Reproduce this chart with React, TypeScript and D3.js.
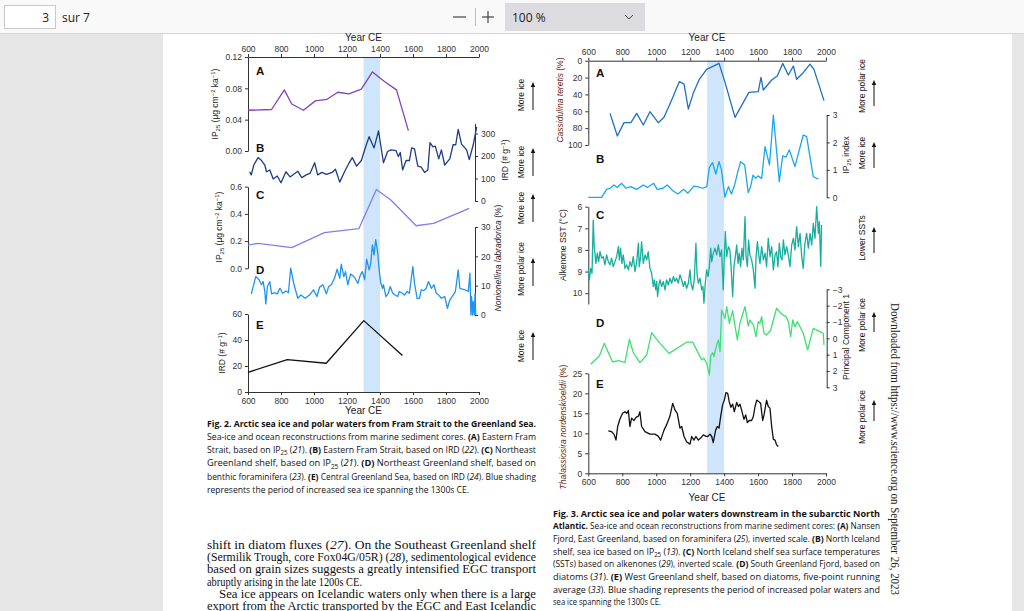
import React, { useRef, useEffect } from 'react';
import * as d3 from 'd3';

// ---- Fig. 2 series: [year CE, value] ----
const fig2A: [number, number][] = [
  [600, 0.052], [743, 0.053], [820, 0.078], [865, 0.060], [936, 0.052], [1008, 0.064],
  [1079, 0.066], [1144, 0.075], [1211, 0.073], [1287, 0.079], [1354, 0.101], [1425, 0.089],
  [1500, 0.078], [1572, 0.026],
];
const fig2B: [number, number][] = [
  [610, 130], [620, 116], [635, 160], [661, 193], [682, 180], [702, 160], [712, 130], [732, 138],
  [753, 98], [777, 111], [800, 81], [830, 130], [855, 107], [875, 118], [902, 132], [926, 104],
  [953, 116], [977, 124], [1004, 170], [1022, 116], [1048, 127], [1075, 118], [1110, 127],
  [1130, 141], [1156, 84], [1185, 130], [1211, 167], [1232, 193], [1258, 155], [1287, 180],
  [1313, 241], [1334, 286], [1364, 236], [1391, 312], [1421, 170], [1446, 220], [1466, 227],
  [1497, 224], [1511, 198], [1523, 216], [1537, 138], [1558, 180], [1578, 180], [1592, 236],
  [1609, 232], [1629, 155], [1650, 151], [1670, 127], [1690, 138], [1703, 259], [1721, 241],
  [1735, 244], [1756, 187], [1772, 227], [1792, 160], [1823, 187], [1843, 250], [1859, 250],
  [1874, 318], [1894, 253], [1925, 227], [1941, 184], [1965, 250], [1986, 330],
];
const fig2C: [number, number][] = [
  [600, 0.171], [661, 0.184], [865, 0.152], [1063, 0.262], [1272, 0.291], [1378, 0.58],
  [1466, 0.502], [1619, 0.313], [1725, 0.33], [1941, 0.441],
];
const fig2D: [number, number][] = [
  [620, 7.2], [647, 13.1], [667, 12], [682, 10.3], [692, 11.4], [702, 8], [708, 3.8], [718, 9.7],
  [732, 11.4], [743, 7.2], [763, 7.6], [777, 7.2], [794, 9.1], [810, 7.4], [830, 8.2], [845, 7.6],
  [859, 16], [879, 10.3], [902, 5.7], [920, 6.8], [946, 5.7], [973, 6.8], [997, 8.6], [1018, 6.3],
  [1034, 9.5], [1054, 10.3], [1075, 7.2], [1089, 9.7], [1105, 10.3], [1124, 12.5], [1140, 15.6],
  [1156, 12.5], [1165, 17.3], [1181, 13.1], [1191, 14.8], [1205, 10.3], [1222, 14], [1238, 13.3],
  [1252, 12.2], [1266, 10.8], [1279, 13.3], [1293, 14.8], [1307, 12], [1319, 19], [1334, 15.4],
  [1344, 17.7], [1354, 23.9], [1364, 20.5], [1374, 25.7], [1385, 21.7], [1395, 15.4], [1405, 10.8],
  [1415, 9.1], [1421, 10.3], [1436, 6.3], [1450, 7.4], [1462, 9.7], [1476, 7.6], [1491, 6.8],
  [1507, 6.3], [1517, 8], [1531, 7.6], [1548, 6.8], [1564, 8], [1578, 7.4], [1599, 16.5],
  [1609, 10.8], [1625, 5.7], [1639, 5.7], [1650, 8.6], [1666, 8.3], [1680, 9.1], [1694, 11.4],
  [1711, 9.1], [1727, 10.3], [1741, 7.4], [1756, 6.8], [1772, 5.7], [1792, 6.3], [1809, 2.3],
  [1823, 5.1], [1843, 6.8], [1857, 8], [1874, 15.4], [1884, 9.1], [1915, 8.6], [1935, 8],
  [1945, 14.3], [1951, 0], [1955, 6.3], [1961, 0], [1965, 4.6], [1972, 0], [1976, 7.4], [1980, 0],
];
const fig2E: [number, number][] = [
  [600, 15.1], [838, 24.9], [1074, 22.1], [1302, 54.9], [1536, 28],
];

// ---- Fig. 3 series: [year CE, value] ----
const fig3A: [number, number][] = [
  [728, 62.5], [771, 89.3], [810, 73.5], [851, 73.5], [885, 62.5], [924, 76.3], [963, 60.5],
  [1012, 73.5], [1046, 67.2], [1091, 46.6], [1136, 24.9], [1164, 27.7], [1189, 57.3], [1218, 38.7],
  [1254, 22.1], [1297, 10.3], [1370, 3.2], [1407, 26.9], [1464, 67.2], [1546, 37.5], [1601, 36.8],
  [1617, 19.8], [1631, 34.8], [1680, 22.9], [1713, 18.2], [1745, 3.2], [1778, 17], [1808, 6.3],
  [1827, 22.1], [1866, 14.2], [1906, 4], [1929, 10.3], [1988, 47.4],
];
const fig3B: [number, number][] = [
  [600, 0], [678, 0], [708, 0.29], [728, 0.33], [751, 0.45], [771, 0.36], [796, 0.51], [822, 0.33],
  [849, 0.39], [885, 0.29], [924, 0.45], [948, 0.36], [985, 0.51], [1006, 0.29], [1039, 0.33],
  [1065, 0.45], [1098, 0.24], [1127, 0.12], [1163, 0.29], [1186, 0.15], [1222, 0.41], [1243, 0.39],
  [1273, 0.33], [1298, 0.39], [1313, 1.09], [1332, 1.26], [1351, 0.85], [1370, 1.3], [1384, 1.02],
  [1405, 0], [1425, 0.39], [1443, 0.12], [1462, 0.45], [1478, 0.87], [1497, 1.3], [1521, 1.18],
  [1542, 0.17], [1556, 0.39], [1570, 0.81], [1586, 0.69], [1599, 0.78], [1621, 0.69], [1641, 1.85],
  [1667, 1.18], [1690, 3.0], [1725, 0.57], [1745, 1.51], [1764, 1.46], [1784, 1.73], [1817, 1.12],
  [1866, 2.27], [1886, 2.21], [1925, 0.75], [1955, 0.66],
];
const fig3C: [number, number][] = [
  [600, 8.92], [606, 9.38], [614, 8.85], [622, 9.08], [629, 6.62], [635, 7.85], [645, 8.62],
  [653, 8.15], [661, 8.54], [669, 8.08], [679, 8.38], [688, 8.31], [698, 8.69], [708, 8.23],
  [718, 8.54], [728, 8.69], [737, 8.38], [747, 8.77], [757, 8.54], [767, 8.31], [777, 7.85],
  [783, 8.46], [790, 7.92], [798, 8.62], [806, 8.23], [816, 8.85], [826, 8.69], [836, 8.92],
  [845, 8.54], [855, 8.77], [865, 8.31], [875, 9.0], [885, 8.54], [895, 7.69], [900, 8.77],
  [908, 8.31], [914, 7.62], [924, 8.62], [934, 8.23], [944, 8.46], [953, 8.08], [963, 8.85],
  [973, 9.08], [983, 9.69], [989, 9.38], [997, 9.85], [1003, 9.46], [1008, 10.15], [1016, 9.62],
  [1022, 9.38], [1032, 9.69], [1042, 9.46], [1052, 9.85], [1061, 9.38], [1071, 9.62], [1081, 9.31],
  [1091, 9.54], [1101, 9.23], [1111, 9.46], [1120, 9.31], [1130, 9.54], [1140, 9.15], [1150, 9.38],
  [1160, 9.69], [1169, 9.46], [1179, 9.77], [1189, 9.54], [1199, 8.92], [1205, 9.54], [1215, 9.85],
  [1224, 9.38], [1234, 7.69], [1240, 9.08], [1248, 9.54], [1258, 9.31], [1268, 9.85], [1275, 9.69],
  [1281, 10.46], [1289, 9.54], [1297, 8.92], [1305, 9.23], [1313, 8.77], [1321, 7.92], [1327, 8.54],
  [1336, 8.15], [1346, 7.92], [1356, 8.23], [1366, 7.77], [1376, 8.31], [1385, 8.0], [1395, 9.85],
  [1401, 8.31], [1407, 7.15], [1415, 8.31], [1425, 7.85], [1434, 8.0], [1442, 8.92], [1450, 10.15],
  [1458, 8.77], [1466, 8.31], [1474, 7.77], [1482, 8.62], [1489, 8.15], [1497, 8.77], [1505, 7.92],
  [1513, 8.46], [1523, 6.46], [1529, 8.31], [1537, 8.77], [1544, 7.54], [1552, 8.23], [1562, 8.46],
  [1572, 8.92], [1582, 9.77], [1588, 8.31], [1596, 7.62], [1603, 8.15], [1611, 8.62], [1621, 7.85],
  [1631, 8.46], [1641, 8.15], [1650, 8.77], [1660, 7.46], [1670, 8.31], [1680, 7.85], [1690, 8.92],
  [1700, 8.23], [1709, 8.08], [1717, 8.77], [1725, 7.69], [1733, 8.31], [1741, 8.46], [1749, 7.54],
  [1758, 8.23], [1768, 7.85], [1778, 8.23], [1788, 8.77], [1798, 7.77], [1808, 7.46], [1817, 8.0],
  [1827, 6.92], [1837, 7.85], [1847, 7.23], [1857, 8.31], [1866, 8.85], [1876, 7.69], [1886, 7.23],
  [1896, 7.92], [1906, 7.23], [1916, 7.77], [1925, 6.77], [1935, 7.46], [1945, 6.0], [1955, 7.23],
  [1961, 6.69], [1969, 8.77], [1974, 6.85],
];
const fig3D: [number, number][] = [
  [614, 1.59], [665, 1.08], [694, 0.31], [743, 1.45], [777, 1.37], [816, 1.47], [842, 0.06],
  [865, 0.88], [904, 1.49], [944, 1.02], [973, -0.35], [1022, 0.31], [1075, 0.92], [1179, 0.24],
  [1215, 0.24], [1238, 0.71], [1268, 1.33], [1281, 1.22], [1297, 1.53], [1313, 2.24], [1321, 1.08],
  [1333, 0.88], [1340, 1.12], [1356, 0.41], [1366, 0.1], [1376, 0.82], [1385, -1.73], [1405, -1.22],
  [1415, -1.94], [1431, -0.92], [1450, -1.69], [1468, -0.51], [1478, 0.1], [1493, -0.92],
  [1523, -1.94], [1542, -0.76], [1552, -1.12], [1572, -0.82], [1588, -0.1], [1601, -1.02],
  [1611, -0.92], [1621, -1.33], [1635, -0.31], [1650, -0.2], [1674, -0.51], [1709, -1.84],
  [1739, -1.49], [1764, -1.33], [1778, -1.02], [1792, -0.1], [1804, -1.12], [1817, -0.71],
  [1831, -1.02], [1847, -0.71], [1866, -0.31], [1892, 0.71], [1925, -0.61], [1965, -0.41],
  [1984, -0.31], [1988, 0.41],
];
const fig3E: [number, number][] = [
  [718, 10.6], [737, 10.4], [751, 9.8], [763, 8.3], [773, 11.7], [786, 13.5], [802, 15], [816, 15.4],
  [826, 15], [836, 15.7], [845, 11.7], [855, 13.8], [869, 13.2], [881, 14], [895, 14.3], [904, 15.4],
  [914, 11.7], [934, 10.4], [963, 9.8], [992, 9.8], [1012, 9.3], [1026, 8.3], [1046, 10.8],
  [1061, 12.1], [1081, 14.3], [1097, 17.5], [1111, 15.8], [1124, 15], [1140, 11.3], [1150, 11.7],
  [1164, 9.2], [1179, 7.9], [1199, 7.3], [1209, 9.2], [1222, 8.3], [1234, 9.2], [1248, 8.3],
  [1262, 8.8], [1277, 9.6], [1291, 9.3], [1303, 9.2], [1317, 9.8], [1327, 9.2], [1336, 7.7],
  [1350, 10.8], [1360, 11.7], [1370, 11.3], [1380, 14.3], [1391, 17.1], [1401, 18.3], [1411, 20.2],
  [1421, 20], [1430, 17.9], [1440, 16.5], [1450, 17.3], [1460, 15.4], [1474, 17.7], [1484, 16.7],
  [1493, 17.3], [1503, 15.8], [1517, 13.5], [1527, 14.6], [1537, 12.7], [1548, 13.2], [1562, 13.2],
  [1572, 14.2], [1582, 16.7], [1592, 18.3], [1605, 17.9], [1615, 17.5], [1627, 13.2], [1635, 14.6],
  [1650, 18.3], [1660, 16.7], [1670, 16.3], [1680, 11.7], [1690, 8.5], [1700, 8.3], [1709, 7.1],
  [1719, 6.7],
];

// ---- ticks ----
const YEAR_TICKS = [600, 800, 1000, 1200, 1400, 1600, 1800, 2000];
const SHADE = [1300, 1400];
const fig2A_ticks = [0, 0.04, 0.08, 0.12];
const fig2B_ticks = [0, 100, 200, 300];
const fig2C_ticks = [0, 0.2, 0.4, 0.6];
const fig2D_ticks = [0, 10, 20, 30];
const fig2E_ticks = [0, 20, 40, 60];
const fig3A_ticks = [0, 20, 40, 60, 80, 100];
const fig3B_ticks = [0, 1, 2, 3];
const fig3C_ticks = [6, 7, 8, 9, 10];
const fig3D_ticks = [-3, -2, -1, 0, 1, 2, 3];
const fig3E_ticks = [0, 5, 10, 15, 20, 25];

// ---- text ----
const fig2Caption = [
  '**Fig. 2. Arctic sea ice and polar waters from Fram Strait to the Greenland Sea.**',
  'Sea-ice and ocean reconstructions from marine sediment cores. **(A)** Eastern Fram',
  'Strait, based on IP~25~ (_21_). **(B)** Eastern Fram Strait, based on IRD (_22_). **(C)** Northeast',
  'Greenland shelf, based on IP~25~ (_21_). **(D)** Northeast Greenland shelf, based on',
  'benthic foraminifera (_23_). **(E)** Central Greenland Sea, based on IRD (_24_). Blue shading',
  'represents the period of increased sea ice spanning the 1300s CE.',
];
const fig3Caption = [
  '**Fig. 3. Arctic sea ice and polar waters downstream in the subarctic North**',
  '**Atlantic.** Sea-ice and ocean reconstructions from marine sediment cores: **(A)** Nansen',
  'Fjord, East Greenland, based on foraminifera (_25_), inverted scale. **(B)** North Iceland',
  'shelf, sea ice based on IP~25~ (_13_). **(C)** North Iceland shelf sea surface temperatures',
  '(SSTs) based on alkenones (_29_), inverted scale. **(D)** South Greenland Fjord, based on',
  'diatoms (_31_). **(E)** West Greenland shelf, based on diatoms, five-point running',
  'average (_33_). Blue shading represents the period of increased polar waters and',
  'sea ice spanning the 1300s CE.',
];
const bodyText = [
  'shift in diatom fluxes (_27_). On the Southeast Greenland shelf',
  '(Sermilik Trough, core Fox04G/05R) (_28_), sedimentological evidence',
  'based on grain sizes suggests a greatly intensified EGC transport',
  'abruptly arising in the late 1200s CE.',
  'Sea ice appears on Icelandic waters only when there is a large',
  'export from the Arctic transported by the EGC and East Icelandic',
];

const SANS = 'Liberation Sans, Arial, sans-serif';
const CAPTION = 'Open Sans, Liberation Sans, sans-serif';
const SERIF = 'Liberation Serif, Times New Roman, serif';
const AX = '#333';

type Sel = d3.Selection<SVGGElement, unknown, null, undefined>;
type Part = { t: string; s?: 'sub' | 'super'; i?: boolean; b?: boolean };

function parseRich(line: string): Part[] {
  return line.split(/(\*\*[^*]+\*\*|_[^_]+_|~[^~]+~)/).filter(Boolean).map(tok => {
    if (tok.startsWith('**')) return { t: tok.slice(2, -2), b: true };
    if (tok.startsWith('_')) return { t: tok.slice(1, -1), i: true };
    if (tok.startsWith('~')) return { t: tok.slice(1, -1), s: 'sub' as const };
    return { t: tok };
  });
}

function richText(g: Sel, x: number, y: number, parts: Part[], size: number, opts: any = {}) {
  const txt = g.append('text')
    .attr('x', x).attr('y', y)
    .attr('font-size', size)
    .attr('font-family', opts.font || SANS)
    .attr('fill', opts.color || '#222')
    .attr('text-anchor', opts.anchor || 'start');
  if (opts.rotate) txt.attr('transform', `rotate(${opts.rotate},${x},${y})`);
  if (opts.len) txt.attr('textLength', opts.len).attr('lengthAdjust', 'spacingAndGlyphs');
  // sub/superscripts are shifted with dy and shifted back on the next run
  let shift = 0;
  parts.forEach(p => {
    const ts = txt.append('tspan').text(p.t);
    if (p.b) ts.attr('font-weight', 'bold');
    if (p.i) ts.attr('font-style', 'italic');
    const want = p.s === 'sub' ? size * 0.25 : p.s === 'super' ? -size * 0.4 : 0;
    if (want !== shift) ts.attr('dy', want - shift);
    shift = want;
    if (p.s) ts.attr('font-size', size * 0.7);
  });
  return txt;
}

function styleAxis(g: Sel) {
  g.attr('font-family', SANS).attr('font-size', 8.5);
  g.select('.domain').attr('stroke', AX);
  g.selectAll('.tick line').attr('stroke', AX);
  g.selectAll('.tick text').attr('fill', AX);
}

function yAxis(svg: Sel, scale: d3.ScaleLinear<number, number>, x: number, side: 'left' | 'right',
  ticks: number[], fmt: (d: any) => string) {
  const axis = (side === 'left' ? d3.axisLeft(scale) : d3.axisRight(scale))
    .tickValues(ticks).tickSize(3).tickSizeOuter(0).tickPadding(3).tickFormat(fmt);
  const g = svg.append('g').attr('transform', `translate(${x},0)`).call(axis as any);
  styleAxis(g);
}

function xAxis(svg: Sel, scale: d3.ScaleLinear<number, number>, y: number, side: 'top' | 'bottom') {
  const axis = (side === 'top' ? d3.axisTop(scale) : d3.axisBottom(scale))
    .tickValues(YEAR_TICKS).tickSize(3).tickSizeOuter(0).tickPadding(2.5).tickFormat(d3.format('d'));
  const g = svg.append('g').attr('transform', `translate(0,${y})`).call(axis as any);
  styleAxis(g);
}

function series(svg: Sel, data: [number, number][], xs: any, ys: any, color: string) {
  const line = d3.line<[number, number]>().x(d => xs(d[0])).y(d => ys(d[1]));
  svg.append('path').datum(data).attr('d', line)
    .attr('fill', 'none').attr('stroke', color).attr('stroke-width', 1.3)
    .attr('stroke-linejoin', 'round');
}

function note(svg: Sel, x: number, cy: number, label: string, ay0: number, ay1: number) {
  richText(svg, x, cy, [{ t: label }], 8.5, { anchor: 'middle', rotate: -90, color: '#111' });
  svg.append('line').attr('x1', x + 9).attr('x2', x + 9).attr('y1', ay1).attr('y2', ay0 + 4)
    .attr('stroke', '#111').attr('stroke-width', 1);
  svg.append('path')
    .attr('d', `M${x + 9},${ay0} L${x + 6.8},${ay0 + 5} L${x + 11.2},${ay0 + 5} Z`)
    .attr('fill', '#111');
}

function panelLetter(svg: Sel, x: number, y: number, s: string) {
  svg.append('text').attr('x', x).attr('y', y).attr('font-family', SANS)
    .attr('font-weight', 'bold').attr('font-size', 11.5).attr('fill', '#111')
    .attr('dominant-baseline', 'central').text(s);
}

const App: React.FC = () => {
  const ref = useRef<SVGSVGElement>(null);

  useEffect(() => {
    if (!ref.current) return;
    const root = d3.select(ref.current);
    root.selectAll('*').remove();
    const svg = root.append('g') as Sel;

    // viewer chrome
    svg.append('rect').attr('width', 1024).attr('height', 611).attr('fill', '#e6e6e6');
    svg.append('rect').attr('x', 163).attr('y', 33).attr('width', 849).attr('height', 578).attr('fill', '#fff');
    svg.append('rect').attr('width', 1024).attr('height', 33).attr('fill', '#f9f9fa');
    svg.append('line').attr('x1', 0).attr('x2', 1024).attr('y1', 33.5).attr('y2', 33.5).attr('stroke', '#d4d4d4');
    svg.append('rect').attr('x', 4.5).attr('y', 5.5).attr('width', 51).attr('height', 23)
      .attr('fill', '#fff').attr('stroke', '#c8c8c8');
    richText(svg, 49, 21.5, [{ t: '3' }], 12, { anchor: 'end', font: 'Open Sans, sans-serif', color: '#222' });
    richText(svg, 62, 21.5, [{ t: 'sur 7' }], 12, { font: 'Open Sans, sans-serif', color: '#222' });
    svg.append('line').attr('x1', 453).attr('x2', 466).attr('y1', 17).attr('y2', 17).attr('stroke', '#444').attr('stroke-width', 1.2);
    svg.append('line').attr('x1', 475.5).attr('x2', 475.5).attr('y1', 8).attr('y2', 26).attr('stroke', '#bbb');
    svg.append('line').attr('x1', 482).attr('x2', 494).attr('y1', 17).attr('y2', 17).attr('stroke', '#444').attr('stroke-width', 1.2);
    svg.append('line').attr('x1', 488).attr('x2', 488).attr('y1', 11).attr('y2', 23).attr('stroke', '#444').attr('stroke-width', 1.2);
    svg.append('rect').attr('x', 505).attr('y', 3).attr('width', 140).attr('height', 28).attr('fill', '#dcdce0');
    richText(svg, 512, 21.5, [{ t: '100 %' }], 12, { font: 'Open Sans, sans-serif', color: '#222' });
    svg.append('path').attr('d', 'M625,15 L629,19 L633,15').attr('fill', 'none').attr('stroke', '#444');

    // ---------------- Fig. 2 ----------------
    const x2 = d3.scaleLinear().domain([600, 2000]).range([248, 479]);
    const y2A = d3.scaleLinear().domain([0, 0.12]).range([151, 57]);
    const y2B = d3.scaleLinear().domain([0, 345]).range([201, 123.4]);
    const y2C = d3.scaleLinear().domain([0, 0.6]).range([268.3, 186.7]);
    const y2D = d3.scaleLinear().domain([0, 30]).range([315, 227]);
    const y2E = d3.scaleLinear().domain([0, 60]).range([392, 314]);

    svg.append('rect').attr('x', x2(SHADE[0])).attr('y', 57)
      .attr('width', x2(SHADE[1]) - x2(SHADE[0])).attr('height', 392 - 57).attr('fill', '#cfe5fb');

    xAxis(svg, x2, 57, 'top');
    xAxis(svg, x2, 392, 'bottom');
    yAxis(svg, y2A, 248, 'left', fig2A_ticks, d3.format('.2f'));
    yAxis(svg, y2B, 475, 'right', fig2B_ticks, d3.format('d'));
    yAxis(svg, y2C, 248, 'left', fig2C_ticks, d3.format('.1f'));
    yAxis(svg, y2D, 475, 'right', fig2D_ticks, d3.format('d'));
    yAxis(svg, y2E, 248, 'left', fig2E_ticks, d3.format('d'));

    series(svg, fig2A, x2, y2A, '#8442b8');
    series(svg, fig2B, x2, y2B, '#1d3c87');
    series(svg, fig2C, x2, y2C, '#7f7ff2');
    series(svg, fig2D, x2, y2D, '#1f93f0');
    series(svg, fig2E, x2, y2E, '#111');

    richText(svg, 363.5, 40.5, [{ t: 'Year CE' }], 10, { anchor: 'middle' });
    richText(svg, 363.5, 413.5, [{ t: 'Year CE' }], 10, { anchor: 'middle' });
    ['A', 'B', 'C', 'D', 'E'].forEach((l, i) => panelLetter(svg, 256, [71, 148, 195, 270, 325][i], l));

    const ipLabel: Part[] = [{ t: 'IP' }, { t: '25', s: 'sub' }, { t: ' (µg cm' }, { t: '−2', s: 'super' }, { t: ' ka' }, { t: '−1', s: 'super' }, { t: ')' }];
    const irdLabel: Part[] = [{ t: 'IRD (# g' }, { t: '−1', s: 'super' }, { t: ')' }];
    richText(svg, 218, 104, ipLabel, 8.5, { anchor: 'middle', rotate: -90 });
    richText(svg, 508, 160, irdLabel, 8.5, { anchor: 'middle', rotate: -90 });
    richText(svg, 222, 227, ipLabel, 8.5, { anchor: 'middle', rotate: -90 });
    richText(svg, 501, 258, [{ t: 'Nonionellina labradorica', i: true }, { t: ' (%)' }], 8.5, { anchor: 'middle', rotate: -90 });
    richText(svg, 225, 353, irdLabel, 8.5, { anchor: 'middle', rotate: -90 });

    note(svg, 524, 95, 'More ice', 82, 110);
    note(svg, 524, 162, 'More ice', 148, 176);
    note(svg, 524, 208, 'More ice', 194, 222);
    note(svg, 524, 269, 'More polar ice', 258, 286);
    note(svg, 524, 346, 'More ice', 332, 360);

    // ---------------- Fig. 3 ----------------
    const x3 = d3.scaleLinear().domain([600, 2000]).range([588.3, 826]);
    const y3A = d3.scaleLinear().domain([0, 100]).range([60.7, 145]);
    const y3B = d3.scaleLinear().domain([0, 3]).range([197.3, 115]);
    const y3C = d3.scaleLinear().domain([6, 10.5]).range([206.7, 304]);
    const y3D = d3.scaleLinear().domain([-3, 3]).range([289.3, 387.3]);
    const y3E = d3.scaleLinear().domain([0, 25]).range([473.3, 373.3]);

    svg.append('rect').attr('x', x3(SHADE[0])).attr('y', 60.7)
      .attr('width', x3(SHADE[1]) - x3(SHADE[0])).attr('height', 473.3 - 60.7).attr('fill', '#cfe5fb');

    xAxis(svg, x3, 60.7, 'top');
    xAxis(svg, x3, 473.3, 'bottom');
    yAxis(svg, y3A, 588.3, 'left', fig3A_ticks, d3.format('d'));
    yAxis(svg, y3B, 826.7, 'right', fig3B_ticks, d3.format('d'));
    yAxis(svg, y3C, 588.3, 'left', fig3C_ticks, d3.format('d'));
    yAxis(svg, y3D, 826.7, 'right', fig3D_ticks, d3.format('d'));
    yAxis(svg, y3E, 588.3, 'left', fig3E_ticks, d3.format('d'));

    series(svg, fig3A, x3, y3A, '#1f6fc4');
    series(svg, fig3B, x3, y3B, '#1aa7ec');
    series(svg, fig3C, x3, y3C, '#16ae9c');
    series(svg, fig3D, x3, y3D, '#3ee072');
    series(svg, fig3E, x3, y3E, '#111');

    richText(svg, 707, 40.5, [{ t: 'Year CE' }], 10, { anchor: 'middle' });
    richText(svg, 707, 500.5, [{ t: 'Year CE' }], 10, { anchor: 'middle' });
    ['A', 'B', 'C', 'D', 'E'].forEach((l, i) => panelLetter(svg, 596, [73, 159, 215, 323, 384][i], l));

    const red = '#6b1d08';
    richText(svg, 563, 100, [{ t: 'Cassidulina teretis', i: true }, { t: ' (%)' }], 8.5, { anchor: 'middle', rotate: -90, color: red });
    richText(svg, 849, 155, [{ t: 'IP' }, { t: '25', s: 'sub' }, { t: ' index' }], 8.5, { anchor: 'middle', rotate: -90 });
    richText(svg, 566, 245, [{ t: 'Alkenone SST (°C)' }], 8.5, { anchor: 'middle', rotate: -90 });
    richText(svg, 849, 337, [{ t: 'Principal Component 1' }], 8.5, { anchor: 'middle', rotate: -90 });
    richText(svg, 566, 427, [{ t: 'Thalassiosira nordenskioeldii', i: true }, { t: ' (%)' }], 8.5, { anchor: 'middle', rotate: -90, color: red });

    note(svg, 865, 86, 'More polar ice', 80, 106);
    note(svg, 865, 153, 'More ice', 142, 168);
    note(svg, 865, 238, 'Lower SSTs', 227, 253);
    note(svg, 865, 325, 'More polar ice', 312, 332);
    note(svg, 865, 417, 'More polar ice', 400, 421);

    // ---------------- captions & body ----------------
    fig2Caption.forEach((l, i) => {
      const last = i === fig2Caption.length - 1;
      richText(svg, 207, 426.5 + i * 13.3, parseRich(l), 9.5, { font: CAPTION, color: '#111', len: last ? 262 : 329 });
    });
    fig3Caption.forEach((l, i) => {
      const last = i === fig3Caption.length - 1;
      richText(svg, 553, 516.5 + i * 12.7, parseRich(l), 9.5, { font: CAPTION, color: '#111', len: last ? 108 : 327 });
    });
    bodyText.forEach((l, i) => {
      const len = i === 3 ? 155 : i === 4 ? 317 : 329;
      richText(svg, i === 4 ? 219 : 207, 549 + i * 12.2, parseRich(l), 11.5, { font: SERIF, color: '#111', len });
    });

    richText(svg, 891, 303, [{ t: 'Downloaded from https://www.science.org on September 26, 2023' }], 11.5,
      { font: SERIF, color: '#222', rotate: 90, len: 292 });
  }, []);

  return (
    <svg ref={ref} width={1024} height={611}
      style={{ position: 'absolute', left: 0, top: 0, display: 'block' }} />
  );
};

export default App;
